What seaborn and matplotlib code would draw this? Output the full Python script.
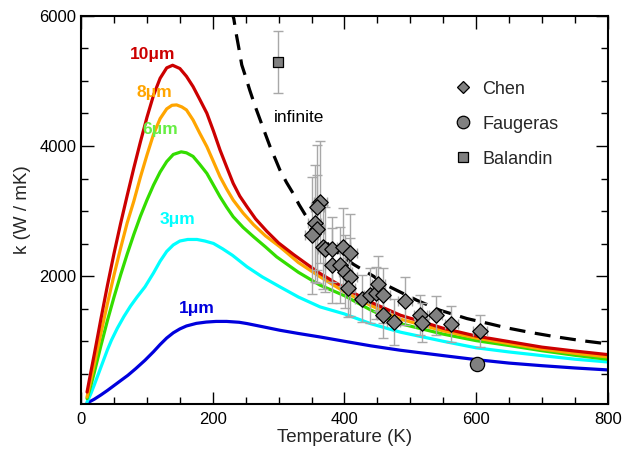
import matplotlib
matplotlib.use("Agg")
import matplotlib.pyplot as plt
from matplotlib.lines import Line2D
from matplotlib.ticker import MultipleLocator
import seaborn as sns

# ---------------- data ----------------
T_10 = [9, 15, 20, 30, 40, 50, 60, 70, 80, 90, 100, 110, 120, 130, 139, 150, 160, 170, 180, 191, 201, 211, 221,
        231, 241, 252, 265, 282, 300, 323, 345, 363, 383, 400, 440, 485, 550, 600, 650, 700, 750, 800]
k_10 = [220, 540, 800, 1340, 1860, 2350, 2810, 3240, 3660, 4060, 4440, 4780, 5040, 5200, 5240, 5190, 5070, 4913,
        4720, 4503, 4230, 3938, 3680, 3426, 3230, 3066, 2880, 2690, 2510, 2330, 2170, 2041, 1920, 1820, 1600, 1400,
        1200, 1080, 995, 910, 850, 795]

T_8 = [9, 15, 20, 30, 40, 50, 60, 70, 80, 90, 100, 110, 120, 130, 138, 145, 153, 160, 170, 180, 191, 201, 211,
       221, 231, 246, 262, 280, 302, 330, 363, 400, 440, 485, 550, 600, 650, 700, 750, 800]
k_8 = [143, 420, 650, 1120, 1580, 2020, 2430, 2820, 3150, 3520, 3860, 4180, 4420, 4570, 4625, 4631, 4600, 4554,
       4400, 4200, 3990, 3760, 3528, 3340, 3169, 2970, 2790, 2620, 2451, 2210, 1990, 1760, 1550, 1340, 1160, 1050,
       965, 880, 815, 759]

T_6 = [9, 15, 20, 30, 40, 50, 60, 70, 80, 90, 100, 110, 120, 130, 140, 152, 160, 170, 180, 191, 201, 211, 221,
       231, 246, 262, 280, 297, 330, 363, 400, 440, 485, 550, 600, 650, 700, 750, 800]
k_6 = [120, 330, 520, 930, 1320, 1680, 2020, 2340, 2640, 2920, 3170, 3400, 3600, 3760, 3870, 3910, 3895, 3840,
       3720, 3579, 3400, 3220, 3060, 2913, 2750, 2605, 2450, 2297, 2060, 1862, 1700, 1480, 1270, 1110, 1010, 935,
       855, 785, 723]

T_3 = [9, 15, 20, 30, 40, 46, 55, 65, 75, 85, 97, 110, 120, 130, 140, 150, 162, 176, 188, 201, 215, 230, 252,
       275, 302, 330, 363, 400, 440, 485, 550, 600, 650, 700, 750, 800]
k_3 = [66, 200, 330, 600, 870, 1015, 1200, 1380, 1540, 1680, 1836, 2050, 2230, 2380, 2480, 2540, 2564, 2564,
       2540, 2503, 2420, 2320, 2144, 1990, 1836, 1680, 1528, 1420, 1270, 1140, 1000, 900, 836, 780, 725, 682]

T_1 = [9, 20, 30, 40, 50, 60, 71, 83, 97, 110, 120, 130, 140, 150, 160, 175, 190, 205, 221, 240, 252, 275, 302,
       330, 363, 400, 440, 485, 550, 600, 650, 700, 750, 800]
k_1 = [50, 110, 175, 245, 320, 395, 477, 580, 708, 840, 950, 1050, 1130, 1190, 1235, 1275, 1295, 1305, 1305,
       1292, 1272, 1225, 1169, 1120, 1066, 1000, 930, 862, 780, 718, 665, 625, 590, 560]

T_inf = [228, 232, 236, 240, 244, 250, 256, 264, 272, 280, 287, 295, 302, 312, 322, 331, 340, 358, 376, 395, 414,
         444, 460, 482, 510, 545, 586, 620, 646, 680, 720, 760, 800]
k_inf = [6100, 5950, 5700, 5480, 5246, 5060, 4862, 4620, 4400, 4180, 3990, 3800, 3630, 3440, 3272, 3100, 2950,
         2700, 2480, 2320, 2180, 2000, 1880, 1770, 1630, 1477, 1349, 1270, 1207, 1140, 1070, 1010, 960]

chen_T = [363, 359, 355, 359, 350, 368, 370.5, 381, 398, 408.5, 381, 393, 401, 408.5, 406,
          426, 439, 448, 451.5, 459, 459, 475, 492, 515, 517.5, 538.7, 562, 606]
chen_k = [3143, 3057, 2810, 2723, 2631, 2451, 2410, 2410, 2451, 2359, 2169, 2169, 2067, 1990, 1826,
          1656, 1708, 1744, 1887, 1708, 1400, 1297, 1620, 1400, 1282, 1400, 1262, 1159]
chen_kerr = [940, 960, 900, 830, 900, 650, 650, 500, 600, 600, 575, 580, 560, 600, 450,
             360, 420, 400, 420, 420, 350, 350, 370, 310, 300, 300, 280, 240]
chen_Terr = [10] * 28

faug_T = [602]
faug_k = [646]

bal_T = [299]
bal_k = [5290]
bal_kerr = [480]

curve_labels = ["10\u03bcm", "8\u03bcm", "6\u03bcm", "3\u03bcm", "1\u03bcm"]
label_T = [108, 112, 120, 147, 176]
label_k = [5400, 4815, 4246, 2877, 1508]

# ---------------- style ----------------
sns.set_theme(style="ticks")
plt.rcParams["font.family"] = ["Liberation Sans", "DejaVu Sans"]
plt.rcParams["xtick.direction"] = "in"
plt.rcParams["ytick.direction"] = "in"

fig = plt.figure(figsize=(6.24, 4.51), dpi=100)
ax = fig.add_axes([0.130, 0.104, 0.844, 0.861])

curve_colors = ["#cc0000", "#ffa500", "#33dd00", "#00ffff", "#0000dd"]
label_colors = ["#cc0000", "#ffa500", "#66ee44", "#00ffff", "#0000dd"]
curves = [(T_10, k_10), (T_8, k_8), (T_6, k_6), (T_3, k_3), (T_1, k_1)]

for (tt, kk), c in zip(curves[::-1], curve_colors[::-1]):
    sns.lineplot(x=tt, y=kk, ax=ax, color=c, lw=2.3, sort=True, estimator=None)

sns.lineplot(x=T_inf, y=k_inf, ax=ax, color="black", lw=2.3, estimator=None)
ax.lines[-1].set_dashes([5, 3])

# error bars
ax.errorbar(chen_T, chen_k, yerr=chen_kerr, xerr=chen_Terr, fmt="none",
            ecolor="#a8a8a8", elinewidth=1.0, capsize=3.5, capthick=1.0, zorder=3)
ax.errorbar(bal_T, bal_k, yerr=bal_kerr, fmt="none",
            ecolor="#a8a8a8", elinewidth=1.0, capsize=3.5, capthick=1.0, zorder=3)

sns.scatterplot(x=chen_T, y=chen_k, ax=ax, marker="D", s=62, color="#808080",
                edgecolor="black", linewidth=0.9, zorder=4)
sns.scatterplot(x=faug_T, y=faug_k, ax=ax, marker="o", s=105, color="#808080",
                edgecolor="black", linewidth=0.9, zorder=4)
sns.scatterplot(x=bal_T, y=bal_k, ax=ax, marker="s", s=55, color="#808080",
                edgecolor="black", linewidth=0.9, zorder=4)

for txt, tx, ky, c in zip(curve_labels, label_T, label_k, label_colors):
    ax.text(tx, ky, txt, color=c, fontsize=12.5, fontweight="bold", ha="center", va="center")
ax.text(331, 4430, "infinite", color="black", fontsize=12.5, ha="center", va="center")

# legend
handles = [
    Line2D([], [], ls="none", marker="D", ms=6.5, mfc="#808080", mec="black", mew=0.9),
    Line2D([], [], ls="none", marker="o", ms=9, mfc="#808080", mec="black", mew=0.9),
    Line2D([], [], ls="none", marker="s", ms=6.5, mfc="#808080", mec="black", mew=0.9),
]
ax.legend(handles, ["Chen", "Faugeras", "Balandin"], loc="upper left",
          bbox_to_anchor=(0.673, 0.875), frameon=False, fontsize=13,
          labelspacing=1.0, handletextpad=0.5, handlelength=1.2)

ax.set_xlim(0, 800)
ax.set_ylim(35, 6000)
ax.xaxis.set_major_locator(MultipleLocator(200))
ax.xaxis.set_minor_locator(MultipleLocator(50))
ax.yaxis.set_major_locator(MultipleLocator(2000))
ax.yaxis.set_minor_locator(MultipleLocator(500))
ax.tick_params(which="both", top=True, right=True, direction="in", colors="black",
               labelsize=12, width=1.0)
ax.tick_params(which="major", length=9)
ax.tick_params(which="minor", length=5)
ax.tick_params(axis="x", pad=6)
for s in ax.spines.values():
    s.set_linewidth(1.5)
    s.set_color("black")

ax.set_xlabel("Temperature (K)", fontsize=13.5, labelpad=1)
ax.set_ylabel("k (W / mK)", fontsize=13.5, labelpad=6)

fig.savefig("out.png", dpi=100)
